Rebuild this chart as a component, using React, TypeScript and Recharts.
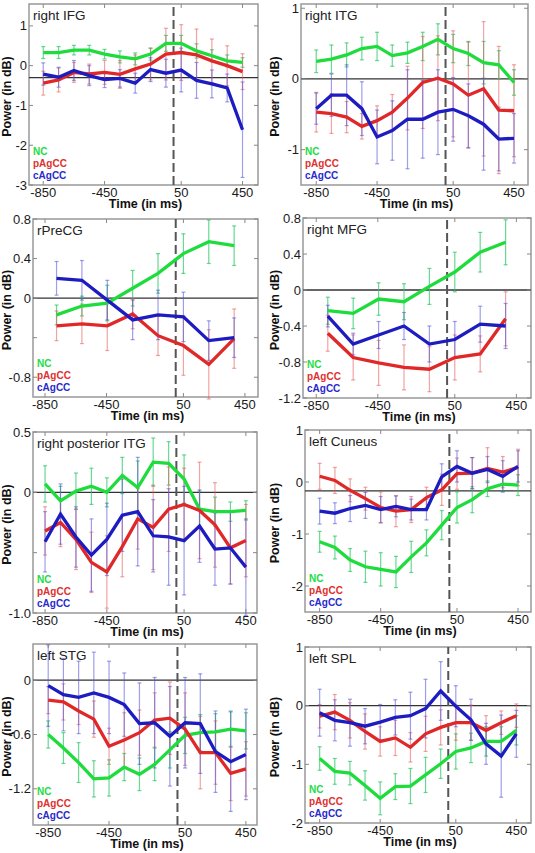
import { LineChart, Line, XAxis, YAxis, ErrorBar, ReferenceLine, ReferenceArea } from "recharts";

const FONT = '"Liberation Sans", Arial, sans-serif';

const GREEN = "#1edc3c";
const RED = "#e02828";
const BLUE = "#1c1cc0";
const GREEN_ERR = "rgba(40, 200, 100, 0.7)";
const RED_ERR = "rgba(230, 90, 90, 0.55)";
const BLUE_ERR = "rgba(80, 80, 215, 0.55)";

// time axis (ms)
const TIME_14 = [-850, -750, -650, -550, -450, -350, -250, -150, -50, 50, 150, 250, 350, 450];
const TIME_8 = [-775, -610, -445, -280, -115, 50, 215, 380];
const X_TICKS = [-850, -450, 50, 450];

// right IFG
const IFG_NC = [0.33, 0.33, 0.39, 0.39, 0.29, 0.22, 0.17, 0.29, 0.56, 0.56, 0.37, 0.25, 0.12, 0.08];
const IFG_NC_ERR = [0.15, 0.15, 0.12, 0.12, 0.12, 0.15, 0.15, 0.15, 0.2, 0.2, 0.18, 0.15, 0.15, 0.12];
const IFG_P = [-0.44, -0.36, -0.17, -0.21, -0.17, -0.22, -0.08, 0.04, 0.29, 0.33, 0.27, 0.12, 0.0, -0.15];
const IFG_P_ERR = [0.3, 0.3, 0.25, 0.25, 0.3, 0.35, 0.35, 0.4, 0.65, 0.7, 0.65, 0.55, 0.5, 0.45];
const IFG_C = [-0.21, -0.29, -0.12, -0.25, -0.35, -0.32, -0.44, -0.1, -0.19, -0.11, -0.37, -0.46, -0.56, -1.61];
const IFG_C_ERR = [0.28, 0.25, 0.25, 0.25, 0.2, 0.22, 0.25, 0.3, 0.35, 0.55, 0.45, 0.35, 0.35, 1.2];

// right ITG
const ITG_NC = [0.25, 0.28, 0.34, 0.43, 0.46, 0.33, 0.37, 0.46, 0.56, 0.43, 0.36, 0.23, 0.2, -0.05];
const ITG_NC_ERR = [0.16, 0.2, 0.17, 0.16, 0.2, 0.15, 0.15, 0.2, 0.22, 0.2, 0.17, 0.3, 0.2, 0.18];
const ITG_P = [-0.47, -0.49, -0.54, -0.67, -0.59, -0.47, -0.27, -0.05, 0.01, -0.07, -0.23, -0.14, -0.44, -0.45];
const ITG_P_ERR = [0.28, 0.28, 0.22, 0.18, 0.21, 0.25, 0.45, 0.65, 0.6, 0.75, 0.75, 0.95, 0.9, 0.65];
const ITG_C = [-0.42, -0.23, -0.23, -0.42, -0.82, -0.73, -0.57, -0.57, -0.47, -0.43, -0.52, -0.64, -0.85, -0.84];
const ITG_C_ERR = [0.22, 0.3, 0.43, 0.38, 0.38, 0.42, 0.7, 0.55, 0.6, 0.45, 0.45, 0.65, 0.45, 0.35];

// rPreCG
const PRECG_NC = [-0.17, -0.08, -0.05, 0.1, 0.25, 0.45, 0.57, 0.53];
const PRECG_NC_ERR = [0.1, 0.1, 0.18, 0.18, 0.2, 0.2, 0.22, 0.2];
const PRECG_P = [-0.28, -0.26, -0.28, -0.16, -0.38, -0.48, -0.67, -0.41];
const PRECG_P_ERR = [0.15, 0.2, 0.25, 0.15, 0.2, 0.3, 0.35, 0.3];
const PRECG_C = [0.2, 0.18, -0.02, -0.22, -0.17, -0.19, -0.43, -0.4];
const PRECG_C_ERR = [0.17, 0.2, 0.2, 0.2, 0.25, 0.25, 0.2, 0.2];

// right MFG
const MFG_NC = [-0.23, -0.26, -0.1, -0.13, 0.04, 0.2, 0.42, 0.53];
const MFG_NC_ERR = [0.15, 0.17, 0.18, 0.2, 0.2, 0.22, 0.22, 0.25];
const MFG_P = [-0.48, -0.75, -0.81, -0.86, -0.88, -0.75, -0.71, -0.32];
const MFG_P_ERR = [0.2, 0.25, 0.25, 0.25, 0.25, 0.25, 0.2, 0.3];
const MFG_C = [-0.29, -0.6, -0.5, -0.4, -0.6, -0.55, -0.38, -0.4];
const MFG_C_ERR = [0.12, 0.12, 0.15, 0.15, 0.2, 0.2, 0.2, 0.25];

// right posterior ITG
const PITG_NC = [0.07, -0.07, 0.01, 0.05, 0.0, 0.14, 0.04, 0.25, 0.24, 0.11, -0.14, -0.16, -0.16, -0.15];
const PITG_NC_ERR = [0.15, 0.12, 0.15, 0.15, 0.12, 0.15, 0.22, 0.2, 0.18, 0.2, 0.15, 0.12, 0.08, 0.08];
const PITG_P = [-0.32, -0.25, -0.39, -0.58, -0.66, -0.45, -0.22, -0.29, -0.14, -0.1, -0.15, -0.27, -0.46, -0.4];
const PITG_P_ERR = [0.2, 0.2, 0.25, 0.25, 0.3, 0.25, 0.25, 0.35, 0.35, 0.3, 0.4, 0.35, 0.3, 0.3];
const PITG_C = [-0.41, -0.18, -0.37, -0.52, -0.39, -0.19, -0.16, -0.36, -0.37, -0.4, -0.28, -0.47, -0.46, -0.62];
const PITG_C_ERR = [0.25, 0.25, 0.25, 0.3, 0.3, 0.3, 0.45, 0.3, 0.4, 0.45, 0.3, 0.3, 0.3, 0.4];

// left Cuneus
const CUN_NC = [-1.15, -1.26, -1.5, -1.63, -1.68, -1.73, -1.44, -1.17, -0.83, -0.49, -0.34, -0.13, -0.04, -0.06];
const CUN_NC_ERR = [0.2, 0.22, 0.22, 0.3, 0.32, 0.3, 0.3, 0.25, 0.28, 0.3, 0.25, 0.15, 0.15, 0.2];
const CUN_P = [0.11, 0.03, -0.16, -0.32, -0.49, -0.56, -0.53, -0.3, -0.15, 0.16, 0.17, 0.26, 0.19, 0.28];
const CUN_P_ERR = [0.25, 0.25, 0.22, 0.22, 0.3, 0.3, 0.25, 0.2, 0.3, 0.3, 0.3, 0.4, 0.3, 0.35];
const CUN_C = [-0.56, -0.6, -0.51, -0.45, -0.53, -0.47, -0.53, -0.53, 0.1, 0.3, 0.17, 0.24, 0.11, 0.3];
const CUN_C_ERR = [0.25, 0.2, 0.25, 0.25, 0.25, 0.2, 0.2, 0.2, 0.25, 0.3, 0.3, 0.25, 0.3, 0.3];

// left STG
const STG_NC = [-0.6, -0.75, -0.91, -1.09, -1.08, -0.96, -1.04, -0.93, -0.77, -0.61, -0.58, -0.57, -0.54, -0.56];
const STG_NC_ERR = [0.15, 0.17, 0.22, 0.2, 0.2, 0.15, 0.18, 0.18, 0.2, 0.2, 0.2, 0.2, 0.2, 0.2];
const STG_P = [-0.22, -0.24, -0.34, -0.43, -0.73, -0.66, -0.58, -0.44, -0.42, -0.54, -0.8, -0.8, -1.03, -0.98];
const STG_P_ERR = [0.15, 0.2, 0.15, 0.2, 0.2, 0.3, 0.25, 0.3, 0.4, 0.4, 0.4, 0.35, 0.3, 0.3];
const STG_C = [-0.06, -0.16, -0.19, -0.14, -0.19, -0.27, -0.48, -0.47, -0.62, -0.47, -0.48, -0.79, -0.9, -0.82];
const STG_C_ERR = [0.45, 0.4, 0.4, 0.45, 0.4, 0.35, 0.45, 0.5, 0.55, 0.5, 0.55, 0.45, 0.55, 0.5];

// left SPL
const SPL_NC = [-0.9, -1.12, -1.15, -1.36, -1.58, -1.38, -1.37, -1.18, -0.99, -0.78, -0.72, -0.61, -0.61, -0.42];
const SPL_NC_ERR = [0.2, 0.22, 0.2, 0.25, 0.28, 0.22, 0.3, 0.3, 0.25, 0.3, 0.25, 0.25, 0.25, 0.25];
const SPL_P = [-0.18, -0.11, -0.25, -0.44, -0.61, -0.55, -0.71, -0.48, -0.37, -0.29, -0.29, -0.42, -0.29, -0.17];
const SPL_P_ERR = [0.2, 0.3, 0.3, 0.3, 0.25, 0.3, 0.25, 0.3, 0.3, 0.3, 0.3, 0.25, 0.2, 0.2];
const SPL_C = [-0.12, -0.25, -0.29, -0.35, -0.28, -0.2, -0.17, -0.05, 0.25, -0.01, -0.24, -0.65, -0.86, -0.48];
const SPL_C_ERR = [0.4, 0.35, 0.4, 0.3, 0.3, 0.3, 0.4, 0.5, 0.5, 0.35, 0.35, 0.35, 0.7, 0.4];

interface PanelDef {
  title: string;
  time: number[];
  nc: number[];
  ncErr: number[];
  p: number[];
  pErr: number[];
  c: number[];
  cErr: number[];
  xDomain: [number, number];
  yDomain: [number, number];
  yTicks: number[];
  yLabels: string[];
  baseline: number;
  col: number;
  box: [number, number, number, number]; // plot area on the page: x0, y0, x1, y1
}

const PANELS: PanelDef[] = [
  {
    title: "right IFG", time: TIME_14,
    nc: IFG_NC, ncErr: IFG_NC_ERR, p: IFG_P, pErr: IFG_P_ERR, c: IFG_C, cErr: IFG_C_ERR,
    xDomain: [-943, 551], yDomain: [-3, 1.55], yTicks: [-3, -2, -1, 0, 1], yLabels: ["-3", "-2", "-1", "0", "1"],
    baseline: -0.3, col: 0, box: [29, 4, 258, 185],
  },
  {
    title: "right ITG", time: TIME_14,
    nc: ITG_NC, ncErr: ITG_NC_ERR, p: ITG_P, pErr: ITG_P_ERR, c: ITG_C, cErr: ITG_C_ERR,
    xDomain: [-950, 542], yDomain: [-1.5, 1.06], yTicks: [-1, 0, 1], yLabels: ["-1", "0", "1"],
    baseline: 0, col: 268, box: [301, 4, 528, 185],
  },
  {
    title: "rPreCG", time: TIME_8,
    nc: PRECG_NC, ncErr: PRECG_NC_ERR, p: PRECG_P, pErr: PRECG_P_ERR, c: PRECG_C, cErr: PRECG_C_ERR,
    xDomain: [-928, 535], yDomain: [-1, 0.8], yTicks: [-0.8, -0.4, 0, 0.4, 0.8], yLabels: ["-0.8", "", "0", "0.4", "0.8"],
    baseline: 0, col: 0, box: [33, 219, 258, 397],
  },
  {
    title: "right MFG", time: TIME_8,
    nc: MFG_NC, ncErr: MFG_NC_ERR, p: MFG_P, pErr: MFG_P_ERR, c: MFG_C, cErr: MFG_C_ERR,
    xDomain: [-936, 545], yDomain: [-1.2, 0.8], yTicks: [-1.2, -0.8, -0.4, 0, 0.4, 0.8], yLabels: ["-1.2", "-0.8", "-0.4", "0", "0.4", "0.8"],
    baseline: 0, col: 268, box: [303, 218, 531, 398],
  },
  {
    title: "right posterior ITG", time: TIME_14,
    nc: PITG_NC, ncErr: PITG_NC_ERR, p: PITG_P, pErr: PITG_P_ERR, c: PITG_C, cErr: PITG_C_ERR,
    xDomain: [-928, 522], yDomain: [-1, 0.5], yTicks: [-1, -0.5, 0, 0.5], yLabels: ["-1.0", "", "0", "0.5"],
    baseline: 0, col: 0, box: [33, 432, 257, 613],
  },
  {
    title: "left Cuneus", time: TIME_14,
    nc: CUN_NC, ncErr: CUN_NC_ERR, p: CUN_P, pErr: CUN_P_ERR, c: CUN_C, cErr: CUN_C_ERR,
    xDomain: [-946, 535], yDomain: [-2.5, 1], yTicks: [-2, -1, 0, 1], yLabels: ["-2", "-1", "0", "1"],
    baseline: -0.17, col: 268, box: [305, 430, 531, 612],
  },
  {
    title: "left STG", time: TIME_14,
    nc: STG_NC, ncErr: STG_NC_ERR, p: STG_P, pErr: STG_P_ERR, c: STG_C, cErr: STG_C_ERR,
    xDomain: [-950, 523], yDomain: [-1.6, 0.4], yTicks: [-1.2, -0.6, 0], yLabels: ["-1.2", "-0.6", "0"],
    baseline: 0, col: 0, box: [33, 644, 257, 825],
  },
  {
    title: "left SPL", time: TIME_14,
    nc: SPL_NC, ncErr: SPL_NC_ERR, p: SPL_P, pErr: SPL_P_ERR, c: SPL_C, cErr: SPL_C_ERR,
    xDomain: [-947, 547], yDomain: [-2, 1], yTicks: [-2, -1, 0, 1], yLabels: ["-2", "-1", "0", "1"],
    baseline: 0, col: 268, box: [305, 647, 531, 823],
  },
];

const TOP_PAD = 10;

function XTick({ x, y, payload, plotH }: any) {
  return (
    <g>
      <line x1={x} x2={x} y1={y} y2={y - 4} stroke="#888" />
      <line x1={x} x2={x} y1={y - plotH} y2={y - plotH + 4} stroke="#888" />
      <text x={x} y={y + 7} dy="0.35em" textAnchor="middle" fontSize={13} fontFamily={FONT} fill="#1a1a1a">
        {payload.value}
      </text>
    </g>
  );
}

function YTick({ x, y, payload, plotW, ticks, labels }: any) {
  const label = labels[ticks.indexOf(payload.value)];
  return (
    <g>
      <line x1={x} x2={x + 4} y1={y} y2={y} stroke="#888" />
      <line x1={x + plotW - 4} x2={x + plotW} y1={y} y2={y} stroke="#888" />
      <text x={x - 2} y={y} dy="0.35em" textAnchor="end" fontSize={13} fontFamily={FONT} fill="#1a1a1a">
        {label}
      </text>
    </g>
  );
}

function XTitle({ viewBox }: any) {
  return (
    <text x={viewBox.x + viewBox.width / 2 + 2} y={viewBox.y + 19} dy="0.35em" textAnchor="middle"
      fontSize={12.5} fontWeight={700} fontFamily={FONT} fill="#111">
      Time (in ms)
    </text>
  );
}

function YTitle({ viewBox }: any) {
  const cx = viewBox.x + 7;
  const cy = viewBox.y + viewBox.height / 2 + 2;
  return (
    <text x={cx} y={cy} dy="0.35em" textAnchor="middle" transform={`rotate(-90 ${cx} ${cy})`}
      fontSize={12.5} fontWeight={700} fontFamily={FONT} fill="#111">
      Power (in dB)
    </text>
  );
}

// panel name (top left) and the group legend (bottom left), inside the frame
function PanelText({ viewBox, title }: any) {
  const { x, y, height } = viewBox;
  const b = y + height;
  return (
    <g fontFamily={FONT}>
      <text x={x + 4} y={y + 16} fontSize={13.5} fill="#222">{title}</text>
      <text x={x + 4} y={b - 30.5} fontSize={10} fontWeight={700} fill="#22dd44">NC</text>
      <text x={x + 4} y={b - 18} fontSize={10} fontWeight={700} fill="#e03030">pAgCC</text>
      <text x={x + 4} y={b - 6.5} fontSize={10} fontWeight={700} fill="#2a2acc">cAgCC</text>
    </g>
  );
}

function Panel({ def }: { def: PanelDef }) {
  const [x0, y0, x1, y1] = def.box;
  const width = 267;
  const plotW = x1 - x0;
  const plotH = y1 - y0;
  const height = plotH + TOP_PAD + 28;
  const rows = def.time.map((t, i) => ({
    t,
    nc: def.nc[i], ncE: def.ncErr[i],
    p: def.p[i], pE: def.pErr[i],
    c: def.c[i], cE: def.cErr[i],
  }));

  return (
    <div style={{ position: "absolute", left: def.col, top: y0 - TOP_PAD, width, height }}>
      <LineChart width={width} height={height} data={rows}
        margin={{ top: TOP_PAD, right: def.col + width - x1, bottom: 0, left: 0 }}>
        <XAxis type="number" dataKey="t" domain={def.xDomain} ticks={X_TICKS} interval={0} allowDataOverflow
          axisLine={false} tickLine={false} tickSize={0} tickMargin={0} height={28}
          tick={<XTick plotH={plotH} />} label={<XTitle />} />
        <YAxis type="number" domain={def.yDomain} ticks={def.yTicks} interval={0} allowDataOverflow
          width={x0 - def.col} axisLine={false} tickLine={false} tickSize={0} tickMargin={0}
          tick={<YTick plotW={plotW} ticks={def.yTicks} labels={def.yLabels} />} label={<YTitle />} />
        <ReferenceLine y={def.baseline} stroke="#333" strokeWidth={1.3} />
        <ReferenceLine x={0} stroke="#555" strokeWidth={2} strokeDasharray="9 4" />

        {/* error bars first so the mean lines sit on top */}
        <Line dataKey="nc" stroke="none" dot={false} activeDot={false} isAnimationActive={false}>
          <ErrorBar dataKey="ncE" direction="y" width={2} strokeWidth={1.2} stroke={GREEN_ERR} />
        </Line>
        <Line dataKey="p" stroke="none" dot={false} activeDot={false} isAnimationActive={false}>
          <ErrorBar dataKey="pE" direction="y" width={2} strokeWidth={1.2} stroke={RED_ERR} />
        </Line>
        <Line dataKey="c" stroke="none" dot={false} activeDot={false} isAnimationActive={false}>
          <ErrorBar dataKey="cE" direction="y" width={2} strokeWidth={1.2} stroke={BLUE_ERR} />
        </Line>

        <Line type="linear" dataKey="nc" stroke={GREEN} strokeWidth={3.3} dot={false} isAnimationActive={false} />
        <Line type="linear" dataKey="p" stroke={RED} strokeWidth={3.3} dot={false} isAnimationActive={false} />
        <Line type="linear" dataKey="c" stroke={BLUE} strokeWidth={3.3} dot={false} isAnimationActive={false} />

        <ReferenceArea x1={def.xDomain[0]} x2={def.xDomain[1]} y1={def.yDomain[0]} y2={def.yDomain[1]}
          fill="none" stroke="#999" strokeWidth={1.5} ifOverflow="visible"
          label={<PanelText title={def.title} />} />
      </LineChart>
    </div>
  );
}

export default function App() {
  return (
    <div style={{ position: "absolute", left: 0, top: 0, width: 535, height: 853, background: "#fff" }}>
      {PANELS.map((def) => (
        <Panel key={def.title} def={def} />
      ))}
    </div>
  );
}
